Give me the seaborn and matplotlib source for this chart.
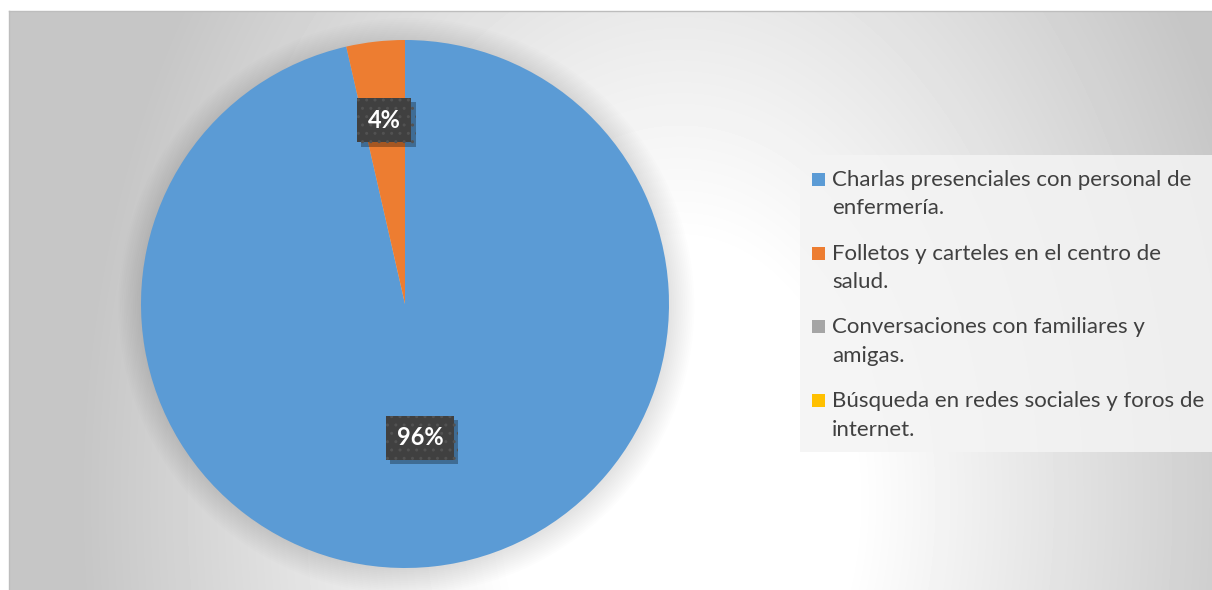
import matplotlib
matplotlib.use("Agg")
import matplotlib.pyplot as plt
import matplotlib.patheffects as pe
from matplotlib.patches import Circle, Rectangle
import numpy as np
import seaborn as sns

# data (answer counts; the labels show 96% / 4%)
categories = [
    "Charlas presenciales con personal de\nenfermería.",
    "Folletos y carteles en el centro de\nsalud.",
    "Conversaciones con familiares y\namigas.",
    "Búsqueda en redes sociales y foros de\ninternet.",
]
counts = [27, 1, 0, 0]
colors = ["#5B9BD5", "#ED7D31", "#A5A5A5", "#FFC000"]

W, H = 1212, 590


def fx(x):
    return x / W


def fy(y):
    return 1 - y / H


sns.set_theme(style="white")
plt.rcParams["font.family"] = ["Lato", "DejaVu Sans"]

fig = plt.figure(figsize=(W / 100, H / 100), dpi=100, facecolor="white")

#
# radial grey background of the chart area
#
bg = fig.add_axes([fx(9), 0, 1 - fx(9), 1 - 11 / H], zorder=0)
xs = np.arange(9, W) + 0.5
ys = np.arange(11, H) + 0.5
gx, gy = np.meshgrid(xs, ys)
r = np.sqrt(((gx - 680) / 580) ** 2 + ((gy - 500) / 850) ** 2)
shade = np.clip(255 - 78 * np.clip(r - 0.3, 0, None), 198, 255) / 255
bg.imshow(shade, cmap="gray", vmin=0, vmax=1, aspect="auto", interpolation="bilinear")
bg.set_xticks([])
bg.set_yticks([])
for side, spine in bg.spines.items():
    spine.set_visible(side in ("top", "left"))
    spine.set_color("#bdbdbd")
    spine.set_linewidth(1)

#
# pie
#
ax = fig.add_axes([fx(141), fy(568), 528 / W, 528 / H], zorder=2)
for k in range(14):
    ax.add_patch(Circle((0.005, -0.008), 1 + 0.007 * k, color="black",
                        alpha=0.006, lw=0, clip_on=False, zorder=0))
wedges, _, autotexts = ax.pie(
    counts,
    colors=colors,
    startangle=90,
    counterclock=False,
    radius=1,
    autopct=lambda p: f"{p:.0f}%" if p > 0.5 else "",
    textprops=dict(color="white", fontsize=17, fontweight="bold"),
    wedgeprops=dict(linewidth=0),
)
ax.set_xlim(-1, 1)
ax.set_ylim(-1, 1)

label_dist = [0.51, 0.70]
for w, t, d in zip(wedges, autotexts, label_dist):
    mid = np.deg2rad((w.theta1 + w.theta2) / 2)
    t.set_position((d * np.cos(mid), d * np.sin(mid)))
    t.set_bbox(dict(boxstyle="square,pad=0.45", fc="#404040", ec="#525252",
                    lw=0, hatch=".."))
    t.get_bbox_patch().set_path_effects(
        [pe.SimplePatchShadow(offset=(3, -3), shadow_rgbFace="black", alpha=0.3),
         pe.Normal()]
    )

#
# legend drawn by hand so the marker sits on the first text line
#
fig.add_artist(Rectangle((fx(800), fy(452)), 412 / W, 297 / H, transform=fig.transFigure,
                         fc="#f4f4f4", alpha=0.85, ec="none", zorder=1))
for i, (label, c) in enumerate(zip(categories, colors)):
    base = 186 + i * 73.7
    fig.add_artist(Rectangle((fx(812), fy(base)), 13 / W, 13 / H,
                             transform=fig.transFigure, fc=c, ec="none", zorder=3))
    for j, line in enumerate(label.split("\n")):
        fig.text(fx(832), fy(base + j * 28.5), line, ha="left", va="baseline",
                 fontsize=16, color="#404040", zorder=3)

plt.savefig("out.png", dpi=100, facecolor="white")
plt.close()
